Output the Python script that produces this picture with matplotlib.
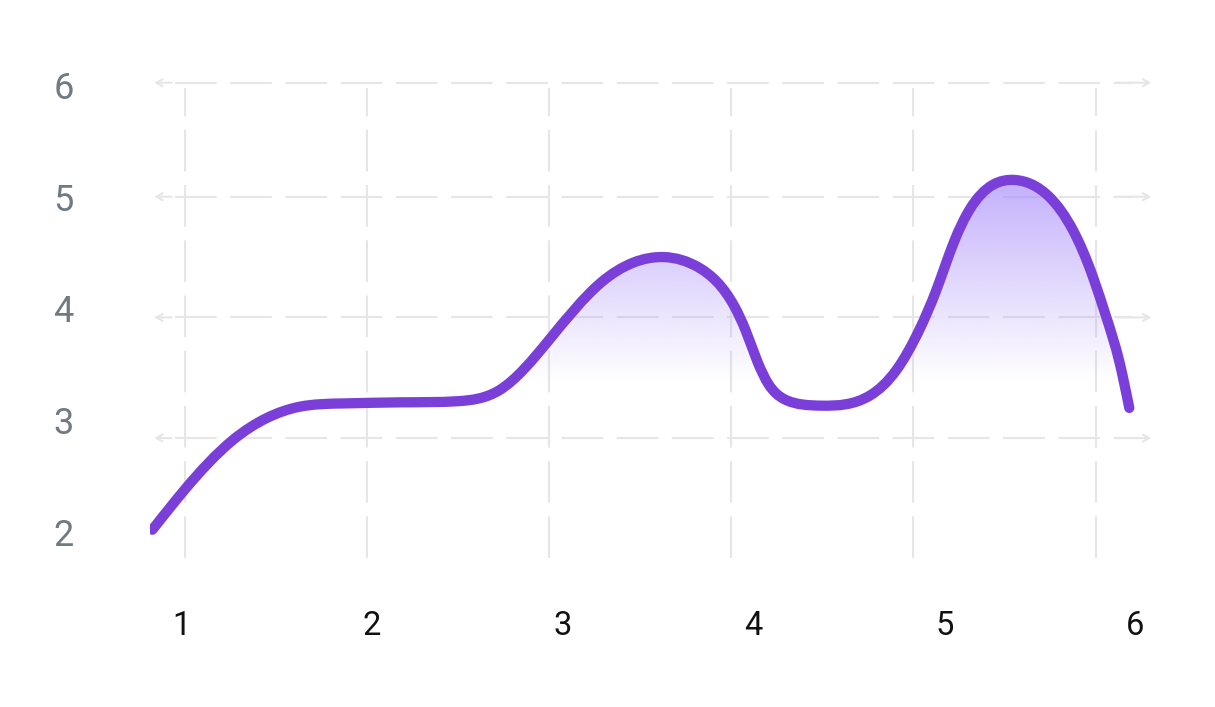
import numpy as np
import matplotlib
matplotlib.use("Agg")
import matplotlib.pyplot as plt
from matplotlib.path import Path
from matplotlib.patches import PathPatch

plt.rcParams['font.family'] = ['Roboto', 'DejaVu Sans']

# data
x_vals = [0.85, 1.02, 1.27, 1.45, 1.62, 1.85, 2.15, 2.45, 2.67, 2.93,
          3.20, 3.37, 3.53, 3.72, 3.90, 3.96, 4.02, 4.08, 4.16,
          4.26, 4.36, 4.61, 4.75, 4.87, 4.96, 5.05, 5.135,
          5.37, 5.55, 5.675, 5.78, 5.85, 5.92, 5.97]
y_vals = [2.02, 2.38, 2.82, 3.02, 3.12, 3.15, 3.16, 3.17, 3.27, 3.72,
          4.23, 4.41, 4.46, 4.36, 4.02, 3.80, 3.53, 3.32, 3.19,
          3.14, 3.13, 3.22, 3.45, 3.81, 4.17, 4.59, 4.89,
          5.15, 5.00, 4.70, 4.28, 3.92, 3.51, 3.11]
x_ticks = [1, 2, 3, 4, 5, 6]
y_ticks = [2, 3, 4, 5, 6]

# background grid (drawn independent of the ticks, as in the reference)
grid_x = [1.02, 1.975, 2.93, 3.88, 4.835, 5.795]
grid_y = [6.02, 5.0, 3.92, 2.84]

LINE = '#7B3FD9'
GRID = '#E6E6E6'


def spline_slopes(x, y):
    # natural cubic spline -> slope at every knot
    x = np.asarray(x, float)
    y = np.asarray(y, float)
    n = len(x)
    h = np.diff(x)
    A = np.zeros((n, n))
    r = np.zeros(n)
    A[0, 0] = A[-1, -1] = 1.0
    for i in range(1, n - 1):
        A[i, i - 1] = h[i - 1]
        A[i, i] = 2 * (h[i - 1] + h[i])
        A[i, i + 1] = h[i]
        r[i] = 6 * ((y[i + 1] - y[i]) / h[i] - (y[i] - y[i - 1]) / h[i - 1])
    M = np.linalg.solve(A, r)
    m = np.zeros(n)
    m[:-1] = np.diff(y) / h - h * (2 * M[:-1] + M[1:]) / 6
    m[-1] = (y[-1] - y[-2]) / h[-1] + h[-1] * (M[-2] + 2 * M[-1]) / 6
    return m


def curve_path(x, y):
    m = spline_slopes(x, y)
    verts = [(x[0], y[0])]
    codes = [Path.MOVETO]
    for i in range(len(x) - 1):
        h = x[i + 1] - x[i]
        verts += [(x[i] + h / 3, y[i] + m[i] * h / 3),
                  (x[i + 1] - h / 3, y[i + 1] - m[i + 1] * h / 3),
                  (x[i + 1], y[i + 1])]
        codes += [Path.CURVE4] * 3
    return verts, codes


fig = plt.figure(figsize=(12.15, 7.07), dpi=100)
ax = fig.add_axes([150 / 1215, 147 / 707, 1010 / 1215, 490 / 707])
x_lo, x_hi = 0.8375, 6.131
y_lo, y_hi = 1.749, 6.134
ax.set_xlim(x_lo, x_hi)
ax.set_ylim(y_lo, y_hi)
for s in ax.spines.values():
    s.set_visible(False)

# grid
for gx in grid_x:
    ax.plot([gx, gx], [y_lo + 0.02, 5.97], color=GRID, lw=1.5,
            dashes=(20, 6.5), zorder=1, solid_capstyle='butt')
for gy in grid_y:
    ax.plot([0.97, 5.99], [gy, gy], color=GRID, lw=1.5,
            dashes=(20, 6.5), zorder=1)
    ax.annotate('', xy=(0.845, gy), xytext=(0.965, gy),
                arrowprops=dict(arrowstyle='->,head_length=0.45,head_width=0.25',
                                color=GRID, lw=1.5), zorder=1)
    ax.annotate('', xy=(6.10, gy), xytext=(5.89, gy),
                arrowprops=dict(arrowstyle='->,head_length=0.45,head_width=0.25',
                                color=GRID, lw=1.5), zorder=1)

# curve + gradient fill
verts, codes = curve_path(x_vals, y_vals)
fill_path = Path(verts + [(x_vals[-1], y_lo), (x_vals[0], y_lo), (0, 0)],
                 codes + [Path.LINETO, Path.LINETO, Path.CLOSEPOLY])
clip = PathPatch(fill_path, facecolor='none', edgecolor='none')
ax.add_patch(clip)

yy = np.linspace(y_lo, 5.25, 300)
alpha = np.clip((yy - 3.35) / (5.15 - 3.35), 0, 1) * 0.68
grad = np.zeros((len(yy), 1, 4))
grad[:, 0, :3] = matplotlib.colors.to_rgb('#A78BFA')
grad[:, 0, 3] = alpha
im = ax.imshow(grad, extent=[x_vals[0], x_vals[-1], y_lo, 5.25], origin='lower',
               aspect='auto', interpolation='bilinear', zorder=2)
im.set_clip_path(clip)

line = PathPatch(Path(verts, codes), facecolor='none', edgecolor=LINE, lw=7.4,
                 capstyle='round', joinstyle='round', zorder=3)
ax.add_patch(line)

# ticks
ax.set_xticks(x_ticks)
ax.set_xticklabels([str(t) for t in x_ticks])
ax.set_yticks(y_ticks)
ax.set_yticklabels([str(t) for t in y_ticks])
ax.tick_params(axis='x', length=0, pad=36, labelsize=23.5, labelcolor='#111111')
ax.tick_params(axis='y', length=0, pad=55, labelsize=26, labelcolor='#6F7A82')
for lab in ax.get_yticklabels():
    lab.set_horizontalalignment('right')

fig.savefig('out.png', dpi=100, facecolor='white')
